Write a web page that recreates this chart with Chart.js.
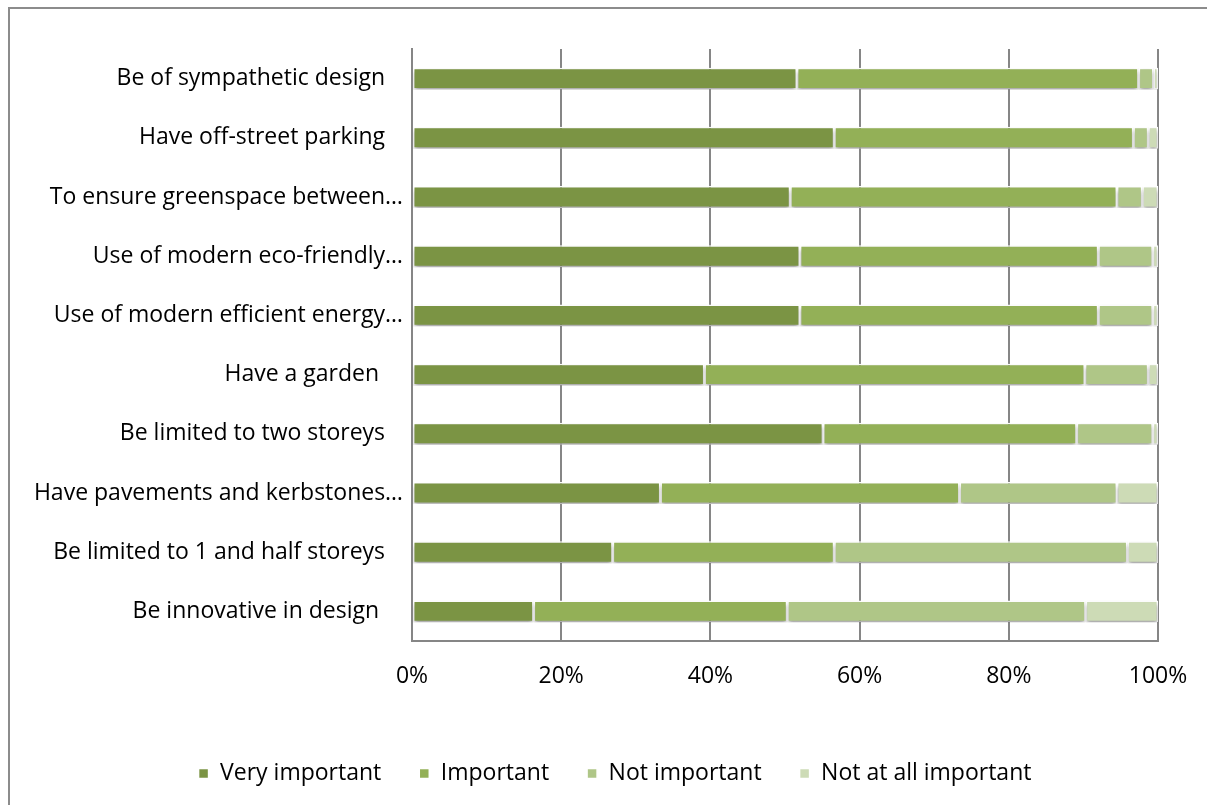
<!DOCTYPE html>
<html>
<head>
<meta charset="utf-8">
<script src="https://cdn.jsdelivr.net/npm/chart.js@4"></script>
<style>
  html, body { margin: 0; padding: 0; background: #fff; }
  #wrap { width: 1207px; height: 805px; }
</style>
</head>
<body>
<div id="wrap"><canvas id="chart_1" width="1207" height="805"></canvas></div>
<script>
const categories = [
  "Be of sympathetic design   ",
  "Have off-street parking   ",
  "To ensure greenspace between…",
  "Use of modern eco-friendly…",
  "Use of modern efficient energy…",
  "Have a garden    ",
  "Be limited to two storeys   ",
  "Have pavements and kerbstones…",
  "Be limited to 1 and half storeys   ",
  "Be innovative in design    ",
];

// percentages of respondents per answer
const veryImportant = [51.6, 56.6, 50.7, 52.0, 52.0, 39.2, 55.1, 33.3, 26.9, 16.3];
const important = [45.8, 40.1, 43.8, 40.0, 40.0, 51.0, 34.0, 40.1, 29.7, 34.0];
const notImportant = [2.0, 2.0, 3.4, 7.3, 7.3, 8.5, 10.2, 21.1, 39.3, 40.0];
const notAtAll = [0.6, 1.3, 2.1, 0.7, 0.7, 1.3, 0.7, 5.5, 4.1, 9.7];

const xTicks = [0, 20, 40, 60, 80, 100];

const FONT = "'Open Sans', sans-serif";

// soft shadow under the bars + outer frame
const extras = {
  id: "extras",
  beforeDraw(chart) {
    const c = chart.ctx;
    c.save();
    c.strokeStyle = "#8c8c8c";
    c.lineWidth = 2;
    c.beginPath();
    c.moveTo(9, 805);
    c.lineTo(9, 8);
    c.lineTo(1207, 8);
    c.stroke();
    c.restore();
  },
  beforeDatasetsDraw(chart) {
    const c = chart.ctx;
    c.save();
    c.shadowColor = "rgba(0,0,0,0.35)";
    c.shadowBlur = 4;
    c.shadowOffsetY = 3;
  },
  afterDatasetsDraw(chart) {
    chart.ctx.restore();
  },
};

const ds = (label, data, color) => ({
  label,
  data,
  backgroundColor: color,
  borderColor: "#ffffff",
  borderWidth: 1.5,
  borderSkipped: false,
  categoryPercentage: 1,
  barPercentage: 0.37,
});

new Chart(document.getElementById("chart_1"), {
  type: "bar",
  data: {
    labels: categories,
    datasets: [
      ds("Very important", veryImportant, "#7b9444"),
      ds("Important", important, "#93b057"),
      ds("Not important", notImportant, "#afc687"),
      ds("Not at all important", notAtAll, "#cddbb6"),
    ],
  },
  options: {
    indexAxis: "y",
    responsive: false,
    animation: false,
    layout: { padding: { top: 49, right: 0, bottom: 10, left: 23 } },
    scales: {
      x: {
        stacked: true,
        min: 0,
        max: 100,
        afterBuildTicks: (s) => { s.ticks = xTicks.map((v) => ({ value: v })); },
        afterFit: (s) => {
          s.height = 83;
          s.paddingLeft = 0;
          s.paddingRight = 0;
        },
        grid: { color: "#868686", lineWidth: 2, drawTicks: false },
        border: { color: "#868686", width: 2 },
        ticks: {
          padding: 22,
          color: "#000",
          font: { family: FONT, size: 23 },
          callback: (v) => v + "%",
        },
      },
      y: {
        stacked: true,
        afterFit: (s) => { s.width = 389; },
        grid: { display: false },
        border: { color: "#868686", width: 2 },
        ticks: {
          padding: 1,
          color: "#000",
          font: { family: FONT, size: 23 },
          autoSkip: false,
        },
      },
      // empty right-hand gutter
      gutter: {
        type: "category",
        position: "right",
        afterFit: (s) => { s.width = 49; },
        grid: { display: false },
        border: { display: false },
        ticks: { display: false },
      },
    },
    plugins: {
      legend: {
        position: "bottom",
        labels: {
          boxWidth: 10,
          boxHeight: 10,
          padding: 38,
          color: "#000",
          font: { family: FONT, size: 23 },
        },
      },
      tooltip: { enabled: false },
    },
  },
  plugins: [extras],
});
</script>
</body>
</html>
